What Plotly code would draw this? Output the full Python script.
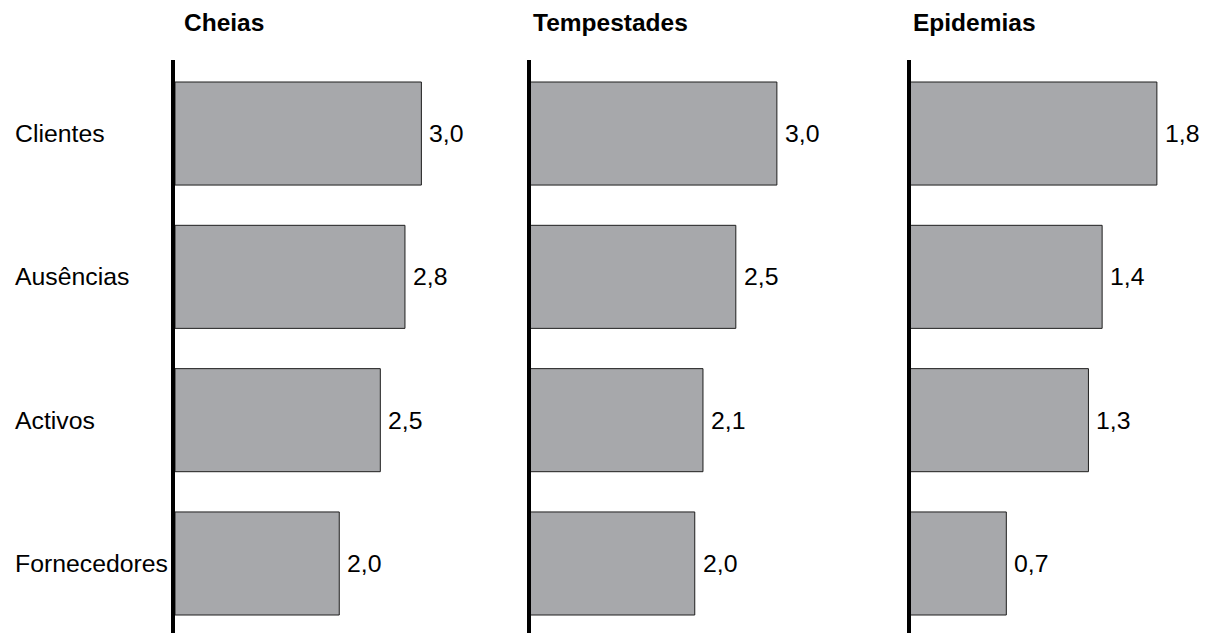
import plotly.graph_objects as go

# Categories (top to bottom) and values per hazard panel
categories = ["Clientes", "Ausências", "Activos", "Fornecedores"]
panel_titles = ["Cheias", "Tempestades", "Epidemias"]
cheias = [3.0, 2.8, 2.5, 2.0]
tempestades = [3.0, 2.5, 2.1, 2.0]
epidemias = [1.8, 1.4, 1.3, 0.7]

W, H = 1207, 633
FONT = "Liberation Sans, Arial, sans-serif"
BAR_FILL = "#a7a8ab"
BAR_EDGE = "#1e1e1e"
LABEL_SIZE = 24.8

panels = [cheias, tempestades, epidemias]
# left edge (px) of each panel's plotting area and title position
panel_left_px = [175, 530.5, 910.5]
title_left_px = [182, 531, 911]
panel_width_px = 290
top_px = 60

fig = go.Figure()

for i, vals in enumerate(panels):
    n = i + 1
    xa = "x" if n == 1 else f"x{n}"
    ya = "y" if n == 1 else f"y{n}"
    fig.add_trace(go.Bar(
        x=vals, y=categories, orientation="h",
        xaxis=xa, yaxis=ya,
        marker=dict(color=BAR_FILL, line=dict(color=BAR_EDGE, width=1)),
        hoverinfo="skip", showlegend=False,
    ))
    left = panel_left_px[i] / W
    right = (panel_left_px[i] + panel_width_px) / W
    xmax = max(vals) * 1.177
    fig.layout[f"xaxis{'' if n == 1 else n}"] = dict(
        domain=[left, right], range=[0, xmax], anchor=ya,
        visible=False, fixedrange=True,
    )
    fig.layout[f"yaxis{'' if n == 1 else n}"] = dict(
        domain=[0, 1 - top_px / H], anchor=xa,
        type="category", categoryarray=categories,
        range=[3.485, -0.513],
        showline=True, linecolor="black", linewidth=3.5,
        showticklabels=False, ticks="", showgrid=False, zeroline=False,
        fixedrange=True,
    )
    # value labels next to bar ends
    for c, v in zip(categories, vals):
        fig.add_annotation(
            x=v, y=c, xref=xa, yref=ya, xanchor="left", yanchor="middle",
            xshift=6, text=f"{v:.1f}".replace(".", ","), showarrow=False,
            font=dict(family=FONT, size=LABEL_SIZE, color="black"),
        )
    # panel title
    fig.add_annotation(
        x=title_left_px[i] / W, y=1 - 22.5 / H, xref="paper", yref="paper",
        xanchor="left", yanchor="middle", text=f"<b>{panel_titles[i]}</b>",
        showarrow=False, font=dict(family=FONT, size=24.5, color="black"),
    )

# category labels on the far left
for c in categories:
    fig.add_annotation(
        x=13 / W, y=c, xref="paper", yref="y", xanchor="left", yanchor="middle",
        text=c, showarrow=False,
        font=dict(family=FONT, size=LABEL_SIZE, color="black"),
    )

fig.update_layout(
    width=W, height=H,
    margin=dict(l=0, r=0, t=0, b=0),
    paper_bgcolor="white", plot_bgcolor="white",
    bargap=0.281,
    font=dict(family=FONT, color="black"),
)

fig.write_html("out.html", config={"displayModeBar": False})
